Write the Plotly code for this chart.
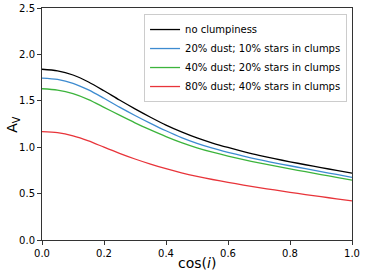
import plotly.graph_objects as go

cos_i = [0.0, 0.05, 0.1, 0.15, 0.2, 0.25, 0.3, 0.35, 0.4, 0.45, 0.5,
         0.55, 0.6, 0.65, 0.7, 0.75, 0.8, 0.85, 0.9, 0.95, 1.0]
no_clump = [1.84, 1.823, 1.778, 1.703, 1.608, 1.508, 1.413, 1.323, 1.238, 1.165, 1.10,
            1.045, 0.997, 0.953, 0.912, 0.876, 0.843, 0.811, 0.78, 0.75, 0.72]
clump_20 = [1.745, 1.73, 1.688, 1.617, 1.527, 1.432, 1.342, 1.257, 1.177, 1.104, 1.042,
            0.99, 0.945, 0.904, 0.866, 0.832, 0.80, 0.768, 0.737, 0.706, 0.675]
clump_40 = [1.63, 1.615, 1.577, 1.513, 1.43, 1.345, 1.263, 1.187, 1.115, 1.05, 0.994,
            0.946, 0.904, 0.866, 0.831, 0.798, 0.766, 0.736, 0.705, 0.675, 0.645]
clump_80 = [1.167, 1.156, 1.122, 1.068, 1.0, 0.934, 0.873, 0.818, 0.768, 0.724, 0.686,
            0.652, 0.621, 0.592, 0.565, 0.539, 0.514, 0.49, 0.467, 0.444, 0.422]

x_ticks = [0, 0.2, 0.4, 0.6, 0.8, 1.0]
x_ticklabels = ["0.0", "0.2", "0.4", "0.6", "0.8", "1.0"]
y_ticks = [0, 0.5, 1.0, 1.5, 2.0, 2.5]
y_ticklabels = ["0.0", "0.5", "1.0", "1.5", "2.0", "2.5"]

series = [
    ("no clumpiness", no_clump, "black"),
    ("20% dust; 10% stars in clumps", clump_20, "#3d8bd0"),
    ("40% dust; 20% stars in clumps", clump_40, "#3cb43c"),
    ("80% dust; 40% stars in clumps", clump_80, "#e8343a"),
]

fig = go.Figure()
for name, ys, col in series:
    fig.add_trace(go.Scatter(x=cos_i, y=ys, mode="lines", name=name,
                             line=dict(color=col, width=1.3, shape="spline", smoothing=0.8)))

axis_common = dict(showline=True, linecolor="#333", linewidth=1, mirror=True,
                   ticks="outside", ticklen=4, tickcolor="#333", showgrid=False,
                   zeroline=False, automargin=False, tickfont=dict(size=10, color="black"))

fig.update_layout(
    width=366, height=276,
    margin=dict(l=42, r=14, t=8, b=36),
    paper_bgcolor="white", plot_bgcolor="white",
    font=dict(family="DejaVu Sans", color="black"),
    xaxis=dict(range=[0, 1], tickvals=x_ticks, ticktext=x_ticklabels, **axis_common),
    yaxis=dict(range=[0, 2.5], tickvals=y_ticks, ticktext=y_ticklabels, **axis_common),
    legend=dict(x=0.984, y=0.974, xanchor="right", yanchor="top",
                bgcolor="rgba(255,255,255,0.9)", bordercolor="#ccc", borderwidth=1,
                font=dict(size=10), itemwidth=30, tracegroupgap=0),
    showlegend=True,
    annotations=[
        dict(text="cos(<i>i</i>)", xref="paper", yref="paper", x=0.5, y=-0.099,
             xanchor="center", yanchor="middle", showarrow=False, font=dict(size=14)),
        dict(text="A<sub>V</sub>", xref="paper", yref="paper", x=-0.094, y=0.5,
             xanchor="center", yanchor="middle", showarrow=False, textangle=-90,
             font=dict(size=14)),
    ],
)

fig.write_html("out.html", config={"displayModeBar": False},
               post_script="document.body.style.margin='0';")
